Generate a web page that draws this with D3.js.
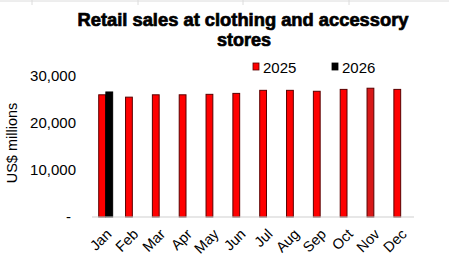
<!DOCTYPE html>
<html>
<head>
	<title></title>
	<style>
		body { margin: 0; background: #fff; }
		text { font-family: "Liberation Sans", Arial, sans-serif; }
	</style>
</head>
<body>
	<svg id="container" height="268" width="449"></svg>
</body>
<script src="https://cdn.jsdelivr.net/npm/d3@7"></script>
<script>
	// values
	let months = ["Jan","Feb","Mar","Apr","May","Jun","Jul","Aug","Sep","Oct","Nov","Dec"]
	let years = ["2025","2026"]
	let sales2025 = [26000, 25500, 26000, 26000, 26100, 26300, 26950, 26950, 26750, 27150, 27400, 27150]
	let sales2026 = [26600]
	let yTicks = [0, 10000, 20000, 30000]

	let svg = d3.select("#container")

	// faint spreadsheet cell lines behind the chart
	svg.append("line").attr("x1", 0).attr("x2", 449).attr("y1", 1).attr("y2", 1)
		.attr("stroke", "#dcdcdc")
	for (let gx of [32, 138, 243, 349]) {
		svg.append("line").attr("x1", gx).attr("x2", gx).attr("y1", 0).attr("y2", 5)
			.attr("stroke", "#dcdcdc")
	}

	let x = d3.scaleBand()
		.domain(months)
		.range([92, 414])

	let x1 = d3.scaleBand()
		.domain(years)
		.range([x.bandwidth() * 0.25, x.bandwidth() * 0.77])
		.paddingInner(0.05)

	let y = d3.scaleLinear()
		.domain([0, 30000])
		.range([217, 76])

	let rows = []
	months.forEach((m, i) => {
		rows.push({month: m, year: "2025", value: sales2025[i]})
		if (sales2026[i] != null) rows.push({month: m, year: "2026", value: sales2026[i]})
	})

	let colors = {"2025": "#ff0000", "2026": "#000000"}

	svg.append("g").selectAll("rect")
		.data(rows)
		.enter().append("rect")
		.attr("x", d => x(d.month) + x1(d.year))
		.attr("width", x1.bandwidth())
		.attr("y", d => y(d.value))
		.attr("height", d => y(0) - y(d.value))
		.attr("fill", d => d.month == "Nov" ? "#d81818" : colors[d.year])
		.attr("stroke", d => d.year == "2026" ? "#000" : "#5a0000")
		.attr("stroke-width", 1)

	// x axis line
	svg.append("line")
		.attr("x1", x.range()[0]).attr("x2", x.range()[1])
		.attr("y1", y(0)).attr("y2", y(0))
		.attr("stroke", "#d0d0d0")
		.attr("stroke-width", 1.2)

	// y axis labels (no line)
	let yAxis = d3.axisLeft(y)
		.tickValues(yTicks)
		.tickSize(0)
		.tickFormat(d => d == 0 ? "-" : d3.format(",")(d))
	let yg = svg.append("g")
		.attr("transform", "translate(78,0)")
		.call(yAxis)
	yg.select(".domain").remove()
	yg.selectAll("text")
		.attr("font-size", 15)
		.attr("font-family", "Liberation Sans, Arial, sans-serif")
		.attr("fill", "#000")
		.attr("x", d => d == 0 ? -7 : -2)

	// x axis labels, slanted
	let xAxis = d3.axisBottom(x).tickSize(0)
	let xg = svg.append("g")
		.attr("transform", "translate(0," + y(0) + ")")
		.call(xAxis)
	xg.select(".domain").remove()
	xg.selectAll("text")
		.attr("font-size", 14.5)
		.attr("font-family", "Liberation Sans, Arial, sans-serif")
		.attr("fill", "#000")
		.attr("text-anchor", "end")
		.attr("dy", 0)
		.attr("y", 0)
		.attr("transform", "translate(7,18) rotate(-45)")

	// y axis title
	svg.append("text")
		.attr("transform", "translate(17,143) rotate(-90)")
		.attr("text-anchor", "middle")
		.attr("font-size", 14.5)
		.text("US$ millions")

	// title
	let title = svg.append("g").attr("font-weight", "bold").attr("text-anchor", "middle")
	title.append("text")
		.attr("x", 243).attr("y", 26)
		.attr("font-size", 18)
		.attr("textLength", 331).attr("lengthAdjust", "spacingAndGlyphs")
		.attr("stroke", "#000").attr("stroke-width", 0.7)
		.text("Retail sales at clothing and accessory")
	title.append("text")
		.attr("x", 244).attr("y", 46)
		.attr("font-size", 18)
		.attr("stroke", "#000").attr("stroke-width", 0.7)
		.text("stores")

	// legend
	let legendX = [253, 332]
	let legend = svg.append("g")
	years.forEach((yr, i) => {
		legend.append("rect")
			.attr("x", legendX[i]).attr("y", 63)
			.attr("width", 6).attr("height", 7)
			.attr("fill", colors[yr])
			.attr("stroke", yr == "2025" ? "#5a0000" : "#000")
			.attr("stroke-width", 0.8)
		legend.append("text")
			.attr("x", legendX[i] + 10).attr("y", 73)
			.attr("font-size", 15)
			.text(yr)
	})
</script>
</html>
